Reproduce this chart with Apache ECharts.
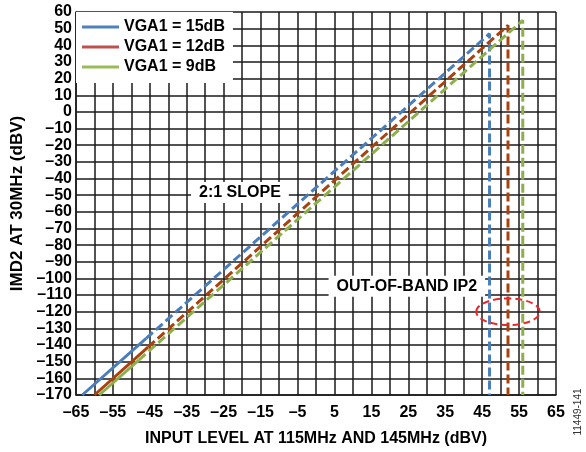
<!DOCTYPE html>
<html>
<head>
<meta charset="utf-8">
<script src="https://cdn.jsdelivr.net/npm/echarts@6/dist/echarts.min.js"></script>
<style>
  html, body { margin: 0; padding: 0; background: #fff; }
  #main { width: 586px; height: 452px; }
</style>
</head>
<body>
<div id="main"></div>
<script>
// axis ranges
var xMin = -65, xMax = 65, xStep = 5, xLabelStep = 10;
var yMin = -170, yMax = 60, yStep = 10;

var seriesNames = ['VGA1 = 15dB', 'VGA1 = 12dB', 'VGA1 = 9dB'];
var lineColors = ['#4a7ebb', '#a8420e', '#8db04c'];
var legendColors = ['#4f81bd', '#c0504d', '#9bbb59'];

// measured part (solid) and extrapolated part (dashed) of each curve
var blueSolid = [[-63.3, -170], [-46, -136]];
var blueDash  = [[-46, -136], [47, 47], [47, -170]];
var redSolid  = [[-60, -170], [-45.5, -141.3]];
var redDash   = [[-45.5, -141.3], [52, 52], [52, -170]];
var greenSolid = [[-58.7, -170], [-48, -149]];
var greenDash  = [[-48, -149], [56, 55], [56, -170]];

// annotations (data coordinates)
var slopeLabel = { text: '2:1 SLOPE', at: [-20.6, -48.4] };
var ip2Label = { text: 'OUT-OF-BAND IP2', at: [24.6, -104.7] };
var ip2Ellipse = { center: [52, -120], rx: 8.6, ry: 8 };

var font = 'Liberation Sans, Arial, sans-serif';

function dash(v) {
    return v < 0 ? '\u2013' + (-v) : String(v);
}

var myChart = echarts.init(document.getElementById('main'));

function lineSeries(name, color, data, dashed) {
    return {
        name: name,
        type: 'line',
        data: data,
        showSymbol: false,
        symbol: 'none',
        color: color,
        z: 3,
        lineStyle: {
            width: 3,
            color: color,
            type: dashed ? [9, 4] : 'solid',
            cap: 'butt'
        }
    };
}

var option = {
    animation: false,
    backgroundColor: '#fff',
    grid: {
        left: 76,
        right: 30,
        top: 12,
        bottom: 56,
        show: false
    },
    legend: {
        left: 76,
        top: 12,
        orient: 'vertical',
        backgroundColor: '#fff',
        padding: [5, 8, 6, 6],
        itemGap: 0,
        itemWidth: 37,
        itemHeight: 3,
        icon: 'rect',
        z: 10,
        textStyle: {
            fontFamily: font,
            fontWeight: 'bold',
            fontSize: 16,
            color: '#000',
            lineHeight: 20
        },
        data: seriesNames.map(function (n, i) {
            return { name: n, itemStyle: { color: legendColors[i] } };
        })
    },
    xAxis: {
        type: 'value',
        min: xMin,
        max: xMax,
        interval: xStep,
        name: 'INPUT LEVEL AT 115MHz AND 145MHz (dBV)',
        nameLocation: 'middle',
        nameGap: 36,
        nameTextStyle: {
            fontFamily: font,
            fontWeight: 'bold',
            fontSize: 16,
            color: '#000'
        },
        axisLine: { show: true, onZero: false, lineStyle: { color: '#1a1a1a', width: 1.5 } },
        axisTick: { show: false },
        axisLabel: {
            margin: 10,
            fontFamily: font,
            fontWeight: 'bold',
            fontSize: 16,
            color: '#000',
            showMinLabel: true,
            showMaxLabel: true,
            formatter: function (v) {
                return Math.round(v - xMin) % xLabelStep === 0 ? dash(v) : '';
            }
        },
        splitLine: { show: true, lineStyle: { color: '#1a1a1a', width: 1.5 } }
    },
    yAxis: {
        type: 'value',
        min: yMin,
        max: yMax,
        interval: yStep,
        name: 'IMD2 AT 30MHz (dBV)',
        nameLocation: 'middle',
        nameGap: 50,
        nameTextStyle: {
            fontFamily: font,
            fontWeight: 'bold',
            fontSize: 17,
            color: '#000'
        },
        axisLine: { show: true, onZero: false, lineStyle: { color: '#1a1a1a', width: 1.5 } },
        axisTick: { show: false },
        axisLabel: {
            margin: 4,
            fontFamily: font,
            fontWeight: 'bold',
            fontSize: 16,
            color: '#000',
            formatter: dash
        },
        splitLine: { show: true, lineStyle: { color: '#1a1a1a', width: 1.5 } }
    },
    series: [
        lineSeries(seriesNames[0], lineColors[0], blueSolid, false),
        lineSeries(seriesNames[0], lineColors[0], blueDash, true),
        lineSeries(seriesNames[1], lineColors[1], redSolid, false),
        lineSeries(seriesNames[1], lineColors[1], redDash, true),
        lineSeries(seriesNames[2], lineColors[2], greenSolid, false),
        lineSeries(seriesNames[2], lineColors[2], greenDash, true)
    ]
};
myChart.setOption(option);

// annotations placed through the chart's own scales
function px(p) {
    return myChart.convertToPixel({ gridIndex: 0 }, p);
}
var c = px(ip2Ellipse.center);
var cx2 = px([ip2Ellipse.center[0] + ip2Ellipse.rx, ip2Ellipse.center[1] + ip2Ellipse.ry]);

function boxText(lbl) {
    var p = px(lbl.at);
    return {
        type: 'text',
        x: p[0],
        y: p[1],
        z: 50,
        style: {
            text: lbl.text,
            fontFamily: font,
            fontWeight: 'bold',
            fontSize: 16,
            fill: '#000',
            align: 'center',
            verticalAlign: 'middle',
            backgroundColor: '#fff',
            padding: [3, 8, 2, 8]
        }
    };
}

myChart.setOption({
    graphic: [
        boxText(slopeLabel),
        boxText(ip2Label),
        {
            type: 'ellipse',
            z: 50,
            shape: { cx: c[0], cy: c[1], rx: cx2[0] - c[0], ry: c[1] - cx2[1] },
            style: { fill: 'none', stroke: '#e8282b', lineWidth: 2, lineDash: [7, 4] }
        },
        {
            type: 'text',
            x: 578,
            y: 412,
            rotation: Math.PI / 2,
            z: 50,
            style: {
                text: '11449-141',
                fontFamily: font,
                fontSize: 10,
                fill: '#333',
                align: 'center',
                verticalAlign: 'middle'
            }
        }
    ]
});
</script>
</body>
</html>
